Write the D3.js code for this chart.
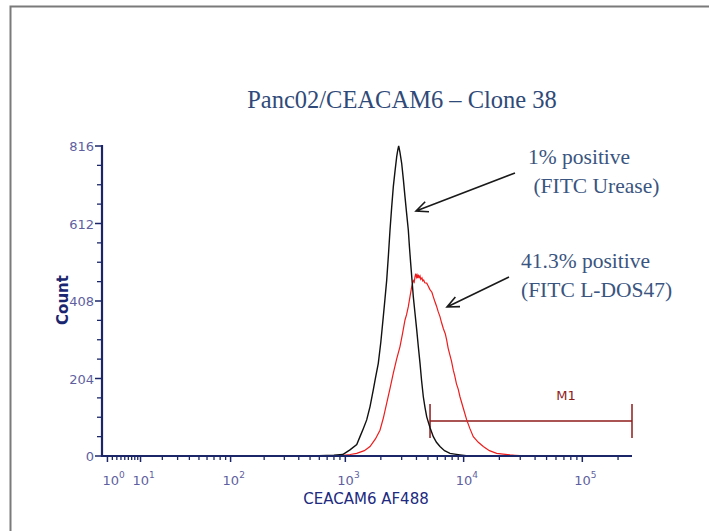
<!DOCTYPE html>
<html>
<head>
<meta charset="utf-8">
<script src="https://cdn.jsdelivr.net/npm/d3@7"></script>
<style>
  html, body { margin: 0; padding: 0; background: #fff; }
  svg { display: block; }
</style>
</head>
<body>
<svg id="chart" width="709" height="531"></svg>
<script>
// Fluorescence (CEACAM6 AF488) and event counts for the control stain (FITC Urease)
const ureaseFluor = [600, 800, 950, 1095, 1250, 1332, 1420, 1518, 1620, 1726, 1800, 1903, 2000, 2098, 2170, 2242, 2320, 2391, 2470, 2550, 2640, 2724, 2780, 2831, 2900, 3002, 3100, 3201, 3300, 3414, 3490, 3575, 3670, 3763, 3890, 4020, 4150, 4287, 4420, 4570, 4720, 4883, 5200, 5550, 5900, 6317, 6900, 7673, 8400, 9315, 10500, 11500];
const ureaseCount = [1, 2, 4, 16, 30, 51, 72, 95, 130, 174, 205, 244, 300, 367, 415, 463, 530, 595, 655, 709, 752, 788, 805, 816, 800, 770, 728, 682, 640, 595, 550, 507, 462, 419, 375, 332, 287, 244, 198, 156, 128, 103, 75, 51, 36, 25, 14, 7, 5, 3, 1, 0];

// Fluorescence and event counts for the L-DOS47 stain
const ldosFluor = [900, 961, 1100, 1249, 1450, 1619, 1800, 1967, 2100, 2242, 2400, 2550, 2720, 2904, 3050, 3201, 3300, 3414, 3530, 3648, 3700, 3760, 3830, 3890, 3950, 4000, 4050, 4100, 4150, 4220, 4287, 4350, 4450, 4520, 4600, 4700, 4883, 5000, 5200, 5400, 5550, 5700, 5900, 6100, 6317, 6500, 6750, 7000, 7196, 7400, 7673, 7900, 8180, 8400, 8700, 9000, 9315, 9950, 10611, 11300, 12060, 13300, 14643, 16500, 18990, 21500, 24590, 27000, 29850, 31000];
const ldosCount = [1, 2, 4, 7, 14, 25, 45, 68, 100, 139, 180, 218, 255, 288, 322, 358, 372, 393, 420, 446, 452, 462, 458, 472, 480, 471, 476, 468, 477, 470, 474, 465, 469, 461, 463, 456, 455, 449, 438, 431, 419, 408, 395, 380, 367, 352, 335, 322, 305, 284, 265, 250, 226, 212, 190, 176, 156, 125, 95, 72, 51, 36, 25, 14, 7, 5, 3, 2, 1, 0];

// Axis ticks
const countTicks = [0, 204, 408, 612, 816];
const countMinorTicks = [51, 102, 153, 255, 306, 357, 459, 510, 561, 663, 714, 765];
const decadeTicks = [1, 10, 100, 1000, 10000, 100000];
const decadeExp = ["0", "1", "2", "3", "4", "5"];

// Gate M1
const gateStart = 5207;
const gateEnd = 262144;
const gateLabel = "M1";

const titleText = "Panc02/CEACAM6 \u2013 Clone 38";
const xTitle = "CEACAM6 AF488";
const yTitle = "Count";
const noteUrease = ["1% positive", " (FITC Urease)"];
const noteLdos = ["41.3% positive", "(FITC L-DOS47)"];

const svg = d3.select("#chart");
const axisColor = "#1b2668";
const tickTextColor = "#5f5f9f";
const noteColor = "#3a5580";
const gateColor = "#8e1b1b";

// outer frame
svg.append("path")
  .attr("d", "M10.5,531 L10.5,6.5 L709,6.5")
  .attr("fill", "none").attr("stroke", "#7a7a7a").attr("stroke-width", 2);

const x = d3.scaleSymlog().constant(9).domain([0, 262144]).range([102, 632]);
const y = d3.scaleLinear().domain([0, 816]).range([456, 146]);

// minor decade ticks (2..9 within each decade)
const minorX = [];
for (let d = 1; d <= 100000; d *= 10) {
  for (let m = 2; m <= 9; m++) {
    const v = d * m;
    if (v < 262144) minorX.push(v);
  }
}

const gx = svg.append("g");
gx.selectAll("line.minor").data(minorX).join("line")
  .attr("x1", d => x(d)).attr("x2", d => x(d))
  .attr("y1", 456).attr("y2", 460)
  .attr("stroke", axisColor).attr("stroke-width", 1.3);
gx.selectAll("line.major").data(decadeTicks).join("line")
  .attr("x1", d => x(d)).attr("x2", d => x(d))
  .attr("y1", 456).attr("y2", 462)
  .attr("stroke", axisColor).attr("stroke-width", 1.5);

const xl = gx.selectAll("text.tl").data(decadeTicks).join("text")
  .attr("x", d => x(d) - 8 + (d === 1 ? 3 : 0))
  .attr("y", 485)
  .attr("font-family", "DejaVu Sans, Verdana, sans-serif")
  .attr("font-size", 13)
  .attr("fill", tickTextColor);
xl.append("tspan").text("10");
xl.append("tspan").attr("dy", -7).attr("font-size", 9).text((d, i) => decadeExp[i]);

// y ticks
const gy = svg.append("g");
gy.selectAll("line.minor").data(countMinorTicks).join("line")
  .attr("x1", 97).attr("x2", 102)
  .attr("y1", d => y(d)).attr("y2", d => y(d))
  .attr("stroke", axisColor).attr("stroke-width", 1.3);
gy.selectAll("line.major").data(countTicks).join("line")
  .attr("x1", 95).attr("x2", 102)
  .attr("y1", d => y(d)).attr("y2", d => y(d))
  .attr("stroke", axisColor).attr("stroke-width", 1.5);
gy.selectAll("text").data(countTicks).join("text")
  .attr("x", 94).attr("y", d => y(d) + 5)
  .attr("text-anchor", "end")
  .attr("font-family", "DejaVu Sans, Verdana, sans-serif")
  .attr("font-size", 13)
  .attr("fill", tickTextColor)
  .text(d => d);

// gate M1
const gy0 = 421;
svg.append("line").attr("x1", x(gateStart)).attr("x2", x(gateEnd))
  .attr("y1", gy0).attr("y2", gy0).attr("stroke", gateColor).attr("stroke-width", 1.5);
[gateStart, gateEnd].forEach(v => {
  svg.append("line").attr("x1", x(v)).attr("x2", x(v))
    .attr("y1", gy0 - 17).attr("y2", gy0 + 17)
    .attr("stroke", gateColor).attr("stroke-width", 1.5);
});
svg.append("text").attr("x", 566).attr("y", 400)
  .attr("text-anchor", "middle")
  .attr("font-family", "DejaVu Sans, Verdana, sans-serif")
  .attr("font-size", 13).attr("fill", gateColor).text(gateLabel);

// histograms
const line = d3.line().x(d => x(d[0])).y(d => y(d[1]));
const ldosData = ldosFluor.map((v, i) => [v, ldosCount[i]]);
const ureaseData = ureaseFluor.map((v, i) => [v, ureaseCount[i]]);
svg.append("path").attr("d", line(ldosData))
  .attr("fill", "none").attr("stroke", "#ee1c1c").attr("stroke-width", 1.2);
svg.append("path").attr("d", line(ureaseData))
  .attr("fill", "none").attr("stroke", "#111").attr("stroke-width", 1.4);

// axis lines
svg.append("line").attr("x1", 101).attr("x2", 632).attr("y1", 456).attr("y2", 456)
  .attr("stroke", axisColor).attr("stroke-width", 2.2);
svg.append("line").attr("x1", 102).attr("x2", 102).attr("y1", 145).attr("y2", 457)
  .attr("stroke", axisColor).attr("stroke-width", 2.2);

// axis titles
svg.append("text").attr("x", 366).attr("y", 504)
  .attr("text-anchor", "middle")
  .attr("font-family", "DejaVu Sans, Verdana, sans-serif")
  .attr("font-size", 15).attr("fill", "#202a80").text(xTitle);
svg.append("text").attr("transform", "translate(68,300) rotate(-90)")
  .attr("text-anchor", "middle")
  .attr("font-family", "DejaVu Sans, Verdana, sans-serif")
  .attr("font-weight", "bold")
  .attr("font-size", 15).attr("fill", "#1b2670").text(yTitle);

// title
svg.append("text").attr("x", 402).attr("y", 108)
  .attr("text-anchor", "middle")
  .attr("font-family", "Liberation Serif, Times New Roman, serif")
  .attr("font-size", 24.5).attr("fill", "#2f4a78").text(titleText);

// annotations
function note(lines, x0, y0) {
  lines.forEach((t, i) => {
    svg.append("text").attr("x", x0).attr("y", y0 + i * 29)
      .attr("font-family", "Liberation Serif, Times New Roman, serif")
      .attr("font-size", 21.5).attr("fill", noteColor)
      .style("white-space", "pre")
      .text(t);
  });
}
note(noteUrease, 528, 164);
note(noteLdos, 521, 268);

function arrow(x1, y1, x2, y2) {
  const a = Math.atan2(y2 - y1, x2 - x1);
  const L = 13, w = 0.42;
  const p1 = [x2 - L * Math.cos(a - w), y2 - L * Math.sin(a - w)];
  const p2 = [x2 - L * Math.cos(a + w), y2 - L * Math.sin(a + w)];
  svg.append("path")
    .attr("d", `M${x1},${y1}L${x2},${y2}M${p1[0]},${p1[1]}L${x2},${y2}L${p2[0]},${p2[1]}`)
    .attr("fill", "none").attr("stroke", "#1a1a1a").attr("stroke-width", 1.6);
}
arrow(515, 173, 416, 211);
arrow(509, 277, 447, 307);
</script>
</body>
</html>
